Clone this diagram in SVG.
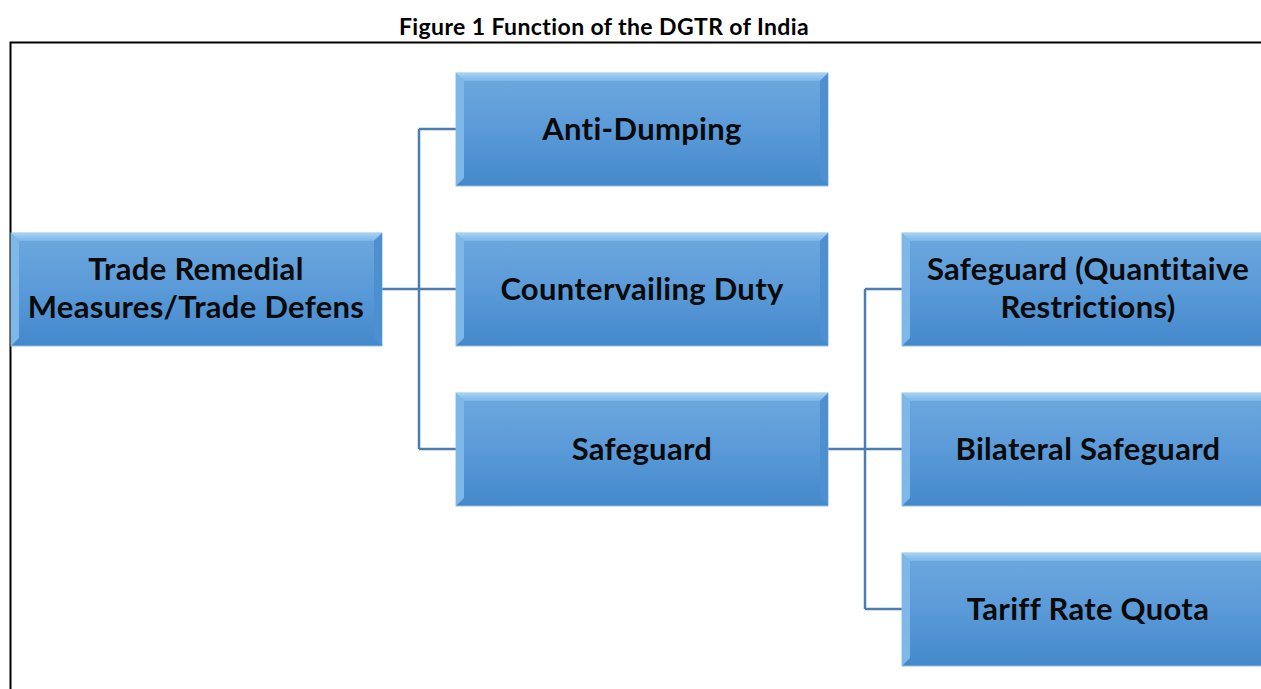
<svg xmlns="http://www.w3.org/2000/svg" width="1261" height="689" viewBox="0 0 1261 689">
<defs>
<linearGradient id="g" x1="0" y1="0" x2="0" y2="1">
<stop offset="0" stop-color="#6ea9de"/>
<stop offset="0.5" stop-color="#5a9ad8"/>
<stop offset="1" stop-color="#4488cc"/>
</linearGradient>
<linearGradient id="gt" x1="0" y1="0" x2="0" y2="1">
<stop offset="0" stop-color="#a8d2f2"/>
<stop offset="1" stop-color="#7ab6e6"/>
</linearGradient>
</defs>
<style>
.bx{fill:url(#g);stroke:#8fc0e8;stroke-width:1}
.top{fill:url(#gt)}
.lft{fill:#7db8e8}
.rgt{fill:#4d8fcf}
.t{font-family:Lato,"Open Sans","Liberation Sans",sans-serif;font-weight:bold;font-size:31px;fill:#0a0a0a;text-anchor:middle;letter-spacing:0.3px}
.c{fill:none;stroke:#4a7eb0;stroke-width:2.5}
</style>
<rect x="0" y="0" width="1261" height="689" fill="#fff"/>
<text x="604" y="35" font-family="Lato,'Open Sans','Liberation Sans',sans-serif" font-weight="bold" font-size="23" text-anchor="middle" fill="#000" letter-spacing="0.4">Figure 1 Function of the DGTR of India</text>
<path d="M10.5 689 V42.5 H1261" fill="none" stroke="#000" stroke-width="2"/>
<g id="connectors">
<path class="c" d="M382 289 H419 M419 129 V449 M419 129 H456 M419 289 H456 M419 449 H456"/>
<path class="c" d="M828 449 H865 M865 289 V609 M865 289 H902 M865 449 H902 M865 609 H902"/>
</g>
<g id="n1">
<rect class="bx" x="11" y="233" width="371" height="113"/>
<polygon class="top" points="11,233 382,233 374,241 19,241"/>
<polygon class="lft" points="11,233 19,241 19,338 11,346"/>
<polygon class="rgt" points="382,233 382,346 374,338 374,241"/>
<text class="t" x="196" y="280">Trade Remedial</text>
<text class="t" x="196" y="318">Measures/Trade Defens</text>
</g>
<g id="n2">
<rect class="bx" x="456" y="73" width="372" height="113"/>
<polygon class="top" points="456,73 828,73 820,81 464,81"/>
<polygon class="lft" points="456,73 464,81 464,178 456,186"/>
<polygon class="rgt" points="828,73 828,186 820,178 820,81"/>
<text class="t" x="642" y="140">Anti-Dumping</text>
</g>
<g id="n3">
<rect class="bx" x="456" y="233" width="372" height="113"/>
<polygon class="top" points="456,233 828,233 820,241 464,241"/>
<polygon class="lft" points="456,233 464,241 464,338 456,346"/>
<polygon class="rgt" points="828,233 828,346 820,338 820,241"/>
<text class="t" x="642" y="300">Countervailing Duty</text>
</g>
<g id="n4">
<rect class="bx" x="456" y="393" width="372" height="113"/>
<polygon class="top" points="456,393 828,393 820,401 464,401"/>
<polygon class="lft" points="456,393 464,401 464,498 456,506"/>
<polygon class="rgt" points="828,393 828,506 820,498 820,401"/>
<text class="t" x="642" y="460">Safeguard</text>
</g>
<g id="n5">
<rect class="bx" x="902" y="233" width="372" height="113"/>
<polygon class="top" points="902,233 1274,233 1266,241 910,241"/>
<polygon class="lft" points="902,233 910,241 910,338 902,346"/>
<text class="t" x="1088" y="280">Safeguard (Quantitaive</text>
<text class="t" x="1088" y="318">Restrictions)</text>
</g>
<g id="n6">
<rect class="bx" x="902" y="393" width="372" height="113"/>
<polygon class="top" points="902,393 1274,393 1266,401 910,401"/>
<polygon class="lft" points="902,393 910,401 910,498 902,506"/>
<text class="t" x="1088" y="460">Bilateral Safeguard</text>
</g>
<g id="n7">
<rect class="bx" x="902" y="553" width="372" height="113"/>
<polygon class="top" points="902,553 1274,553 1266,561 910,561"/>
<polygon class="lft" points="902,553 910,561 910,658 902,666"/>
<text class="t" x="1088" y="620">Tariff Rate Quota</text>
</g>
</svg>
